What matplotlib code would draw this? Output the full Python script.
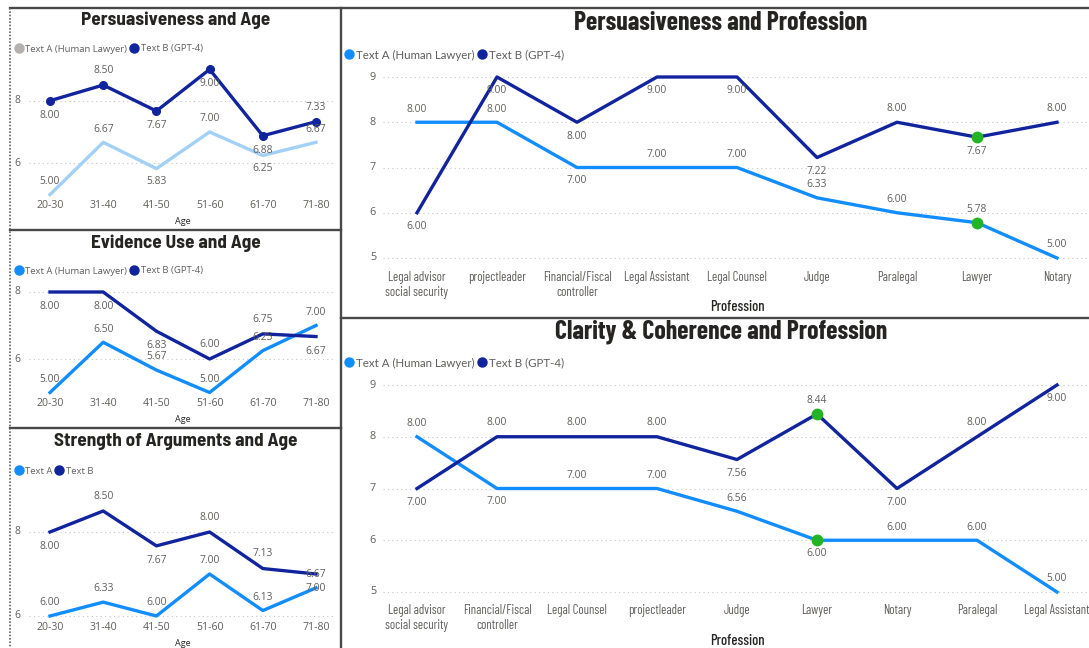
import matplotlib
matplotlib.use("Agg")
import matplotlib.pyplot as plt
from matplotlib.lines import Line2D
from matplotlib import font_manager

# Chart data
age_groups = ["20-30", "31-40", "41-50", "51-60", "61-70", "71-80"]
pers_age_a = [5.00, 6.67, 5.83, 7.00, 6.25, 6.67]
pers_age_b = [8.00, 8.50, 7.67, 9.00, 6.88, 7.33]
evid_age_a = [5.00, 6.50, 5.67, 5.00, 6.25, 7.00]
evid_age_b = [8.00, 8.00, 6.83, 6.00, 6.75, 6.67]
strength_age_a = [6.00, 6.33, 6.00, 7.00, 6.13, 6.67]
strength_age_b = [8.00, 8.50, 7.67, 8.00, 7.13, 7.00]

pers_prof = ["Legal advisor\nsocial security", "projectleader", "Financial/Fiscal\ncontroller",
             "Legal Assistant", "Legal Counsel", "Judge", "Paralegal", "Lawyer", "Notary"]
pers_prof_a = [8.00, 8.00, 7.00, 7.00, 7.00, 6.33, 6.00, 5.78, 5.00]
pers_prof_b = [6.00, 9.00, 8.00, 9.00, 9.00, 7.22, 8.00, 7.67, 8.00]

clar_prof = ["Legal advisor\nsocial security", "Financial/Fiscal\ncontroller", "Legal Counsel",
             "projectleader", "Judge", "Lawyer", "Notary", "Paralegal", "Legal Assistant"]
clar_prof_a = [8.00, 7.00, 7.00, 7.00, 6.56, 6.00, 6.00, 6.00, 5.00]
clar_prof_b = [7.00, 8.00, 8.00, 8.00, 7.56, 8.44, 7.00, 8.00, 9.00]
highlight = "Lawyer"

# fonts: use condensed faces when present, else DejaVu Sans condensed
names = {f.name for f in font_manager.fontManager.ttflist}


def pick(name, **extra):
    if name in names:
        return dict(family=name, **extra)
    return dict(family="DejaVu Sans", stretch="condensed", **extra)


REG = dict(family="Open Sans")
LATO = dict(family="Lato")
NARROW = pick("Barlow Condensed")
TITLE_L = pick("Barlow Semi Condensed", weight="bold")
TITLE_R = pick("Barlow Condensed", weight="bold")
AXLAB_R = pick("Barlow Condensed", weight="medium")

BLUE = "#118DFF"
NAVY = "#12239E"
LIGHT = "#a3d0f7"
GREEN = "#22b422"
GRAY = "#605E5C"
DARK = "#252423"

W, H = 1089, 648
fig = plt.figure(figsize=(W / 100, H / 100), dpi=100)
fig.patch.set_facecolor("white")


def fx(x):
    return x / W


def fy(y):
    return 1 - y / H


def text(x, y, s, font, size, color, **kw):
    return fig.text(fx(x), fy(y), s, fontproperties=font_manager.FontProperties(size=size, **font),
                    color=color, **kw)


def make_axes(left, right, top, bottom, first_x, last_x, n, y_hi, v_hi, y_lo, v_lo):
    ax = fig.add_axes([fx(left), fy(bottom), (right - left) / W, (bottom - top) / H])
    step = (last_x - first_x) / (n - 1)
    ax.set_xlim((left - first_x) / step, (right - first_x) / step)
    scale = (y_lo - y_hi) / (v_hi - v_lo)
    ax.set_ylim(v_hi - (bottom - y_hi) / scale, v_hi + (y_hi - top) / scale)
    for s in ax.spines.values():
        s.set_visible(False)
    ax.set_facecolor("none")
    ax.set_xticks([])
    ax.grid(axis="y", linestyle=(0, (1, 3)), color="#c8c6c4", lw=0.8)
    ax.tick_params(axis="y", length=0)
    return ax


def labels(ax, ys, sides, font, size, off):
    fp = font_manager.FontProperties(size=size, **font)
    for i, (v, s) in enumerate(zip(ys, sides)):
        ax.annotate(f"{v:.2f}", (i, v), xytext=(0, off if s == "u" else -off),
                    textcoords="offset points", ha="center", va="center",
                    fontproperties=fp, color=GRAY)


def legend(x, y, names_, colors, font, size, msize, gap):
    handles = [Line2D([], [], ls="none", marker="o", markersize=msize, color=c)
               for c in colors]
    fig.legend(handles, names_, loc="center left", bbox_to_anchor=(fx(x), fy(y)),
               ncol=2, frameon=False, borderpad=0, borderaxespad=0,
               handlelength=0.6, handletextpad=gap, columnspacing=0.4,
               prop=font_manager.FontProperties(size=size, **font), labelcolor=GRAY)


def age_panel(title, title_y, a, b, sa, sb, ax_box, tick_y, age_y, leg_y, leg_names,
              leg_colors, a_color=BLUE, b_marker=False):
    t, bot, y_hi, y_lo = ax_box
    ax = make_axes(29, 335, t, bot, 50, 316, len(age_groups), y_hi, 8, y_lo, 6)
    x = range(len(age_groups))
    ax.plot(x, a, color=a_color, lw=2.4)
    ax.plot(x, b, color=NAVY, lw=2.4, marker="o" if b_marker else None, markersize=5.5)
    labels(ax, a, sa, REG, 7.4, 9.5)
    labels(ax, b, sb, REG, 7.4, 10.5)
    ax.set_yticks([6, 8])
    ax.set_yticklabels([])
    for v, yp in ((8, y_hi), (6, y_lo)):
        text(17, yp, str(v), REG, 7.5, GRAY, ha="center", va="center")
    for i, g in enumerate(age_groups):
        text(50 + i * 53.2, tick_y, g, REG, 7.6, GRAY, ha="center", va="center")
    text(176, title_y, title, TITLE_L, 13.8, DARK, ha="center", va="center")
    text(183, age_y, "Age", REG, 6.5, DARK, ha="center", va="center")
    legend(16, leg_y, leg_names, leg_colors, REG, 6.8, 6.5, 0.4)
    return ax


age_panel("Persuasiveness and Age", 20, pers_age_a, pers_age_b, "uududu", "dudddu",
          (62, 197, 100.7, 163.3), 205, 221, 49,
          ["Text A (Human Lawyer)", "Text B (GPT-4)"], ["#b3b0ad", NAVY],
          a_color=LIGHT, b_marker=True)
age_panel("Evidence Use and Age", 243, evid_age_a, evid_age_b, "uuuuuu", "ddduud",
          (280, 395, 292, 359), 404, 420, 271,
          ["Text A (Human Lawyer)", "Text B (GPT-4)"], [BLUE, NAVY])
age_panel("Strength of Arguments and Age", 441, strength_age_a, strength_age_b,
          "uuuuuu", "duduud", (498, 620, 532, 616), 627, 643, 471,
          ["Text A", "Text B"], [BLUE, NAVY])


def prof_panel(title, title_y, cats, a, b, sa, sb, box, tick_y, prof_y, leg_y):
    t, bot, y_hi, y_lo = box
    ax = make_axes(383, 1089, t, bot, 417, 1057, len(cats), y_hi, 9, y_lo, 5)
    x = range(len(cats))
    ax.plot(x, a, color=BLUE, lw=2.4)
    ax.plot(x, b, color=NAVY, lw=2.4)
    k = cats.index(highlight)
    ax.plot([k, k], [a[k], b[k]], ls="none", marker="o", color=GREEN, markersize=7.5)
    labels(ax, a, sa, REG, 7.4, 9.5)
    labels(ax, b, sb, REG, 7.4, 10)
    ax.set_yticks([5, 6, 7, 8, 9])
    ax.set_yticklabels([])
    scale = (y_lo - y_hi) / 4
    for v in [5, 6, 7, 8, 9]:
        text(373, y_hi + (9 - v) * scale, str(v), REG, 7.8, GRAY, ha="center", va="center")
    for i, c in enumerate(cats):
        text(417 + i * 80, tick_y, c, NARROW, 9.2, GRAY, ha="center", va="top",
             linespacing=1.2)
    text(721, title_y, title, TITLE_R, 18.6, DARK, ha="center", va="center")
    text(737, prof_y, "Profession", AXLAB_R, 10.5, DARK, ha="center", va="center")
    legend(346, leg_y, ["Text A (Human Lawyer)", "Text B (GPT-4)"], [BLUE, NAVY],
           LATO, 8.3, 6.5, 0.25)


prof_panel("Persuasiveness and Profession", 23, pers_prof, pers_prof_a, pers_prof_b,
           "uuduuuuuu", "ddddddudu", (68, 262, 77, 258), 271, 307, 55)
prof_panel("Clarity & Coherence and Profession", 332, clar_prof, clar_prof_a, clar_prof_b,
           "uduuuduuu", "duuududud", (372, 597, 385, 592), 604, 641, 363)

# panel borders
border = dict(color="#484848", lw=1.7, transform=fig.transFigure)
fig.add_artist(Line2D([fx(10), fx(1089)], [fy(8), fy(8)], **border))
fig.add_artist(Line2D([fx(10), fx(341)], [fy(230), fy(230)], **border))
fig.add_artist(Line2D([fx(10), fx(341)], [fy(428), fy(428)], **border))
fig.add_artist(Line2D([fx(341), fx(341)], [fy(8), fy(648)], **border))
fig.add_artist(Line2D([fx(341), fx(1089)], [fy(318), fy(318)], **border))
fig.add_artist(Line2D([fx(10), fx(10)], [fy(8), fy(648)], color="#606060", lw=1.2,
                      ls=(0, (1, 1)), transform=fig.transFigure))

fig.savefig("out.png", dpi=100)
